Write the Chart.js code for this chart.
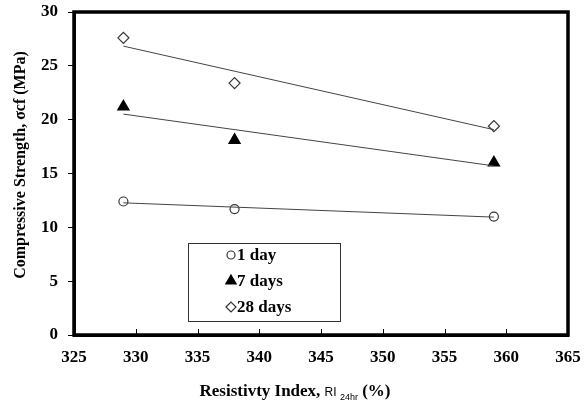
<!DOCTYPE html>
<html>
<head>
<meta charset="utf-8">
<script src="https://cdn.jsdelivr.net/npm/chart.js@4/dist/chart.umd.min.js"></script>
<style>
  html, body { margin: 0; padding: 0; background: #fff; }
  #wrap { width: 587px; height: 411px; }
</style>
</head>
<body>
<div id="wrap"><canvas id="chart" width="587" height="411"></canvas></div>
<script>
// Data
const resistivity = [329, 338, 359];
const day1 = [12.4, 11.7, 11.0];
const day7 = [21.2, 18.1, 16.0];
const day28 = [27.6, 23.4, 19.4];
const seriesLabels = ['1 day', '7 days', '28 days'];
const xTicks = [325, 330, 335, 340, 345, 350, 355, 360, 365];
const yTicks = [0, 5, 10, 15, 20, 25, 30];

const serif = "'Liberation Serif', 'Times New Roman', serif";

// Excel style linear trendline from the measured points
function trend(xs, ys) {
    const n = xs.length;
    const mx = xs.reduce((a, b) => a + b, 0) / n;
    const my = ys.reduce((a, b) => a + b, 0) / n;
    let sxy = 0, sxx = 0;
    xs.forEach((x, i) => { sxy += (x - mx) * (ys[i] - my); sxx += (x - mx) * (x - mx); });
    const k = sxy / sxx;
    const x0 = Math.min(...xs), x1 = Math.max(...xs);
    return [{ x: x0, y: my + k * (x0 - mx) }, { x: x1, y: my + k * (x1 - mx) }];
}

function pts(ys) {
    return resistivity.map((x, i) => ({ x: x, y: ys[i] }));
}

const markers = [
    { pointStyle: 'circle', radius: 4.5, bg: '#fff', border: '#333' },
    { pointStyle: 'triangle', radius: 6.5, bg: '#000', border: '#000' },
    { pointStyle: 'rectRot', radius: 5.5, bg: '#fff', border: '#333' },
];

const allSeries = [day1, day7, day28];

const datasets = [];
allSeries.forEach((ys, i) => {
    datasets.push({
        type: 'line',
        data: trend(resistivity, ys),
        borderColor: '#444',
        borderWidth: 1,
        pointRadius: 0,
        fill: false,
    });
});
allSeries.forEach((ys, i) => {
    datasets.push({
        type: 'scatter',
        label: seriesLabels[i],
        data: pts(ys),
        pointStyle: markers[i].pointStyle,
        pointRadius: markers[i].radius,
        pointBackgroundColor: markers[i].bg,
        pointBorderColor: markers[i].border,
        pointBorderWidth: 1.2,
    });
});

// Frame, inside x ticks, axis titles and the boxed legend
const decorations = {
    id: 'decorations',
    afterDraw(chart) {
        const ctx = chart.ctx;
        const a = chart.chartArea;
        const xs = chart.scales.x;
        ctx.save();

        // inside tick marks on the x axis
        ctx.strokeStyle = '#000';
        ctx.lineWidth = 1;
        xTicks.slice(1, -1).forEach(v => {
            const px = Math.round(xs.getPixelForValue(v)) + 0.5;
            ctx.beginPath();
            ctx.moveTo(px, a.bottom);
            ctx.lineTo(px, a.bottom - 6);
            ctx.stroke();
        });

        // thick frame
        ctx.lineWidth = 3.5;
        ctx.strokeRect(a.left, a.top, a.right - a.left, a.bottom - a.top);

        // y title
        ctx.fillStyle = '#000';
        ctx.save();
        ctx.translate(21, 165);
        ctx.rotate(-Math.PI / 2);
        ctx.font = 'bold 16px ' + serif;
        ctx.textAlign = 'center';
        ctx.textBaseline = 'middle';
        ctx.fillText('Compressive Strength, σcf (MPa)', 0, 0);
        ctx.restore();

        // x title with subscript
        const parts = [
            { t: 'Resistivty Index, ', f: 'bold 17px ' + serif, dy: 0 },
            { t: 'RI ', f: '12px "Liberation Sans", Arial, sans-serif', dy: 0 },
            { t: '24hr', f: '9px "Liberation Sans", Arial, sans-serif', dy: 4 },
            { t: ' (%)', f: 'bold 17px ' + serif, dy: 0 },
        ];
        let total = 0;
        parts.forEach(p => { ctx.font = p.f; p.w = ctx.measureText(p.t).width; total += p.w; });
        let x = 295 - total / 2;
        ctx.textAlign = 'left';
        ctx.textBaseline = 'alphabetic';
        parts.forEach(p => {
            ctx.font = p.f;
            ctx.fillText(p.t, x, 396 + p.dy);
            x += p.w;
        });

        // legend box
        ctx.lineWidth = 1;
        ctx.strokeStyle = '#333';
        ctx.strokeRect(188.5, 243.5, 152, 78);
        ctx.font = 'bold 17px ' + serif;
        ctx.textBaseline = 'middle';
        const rows = [255, 281, 307];
        markers.forEach((m, i) => {
            ctx.fillStyle = m.bg;
            ctx.strokeStyle = m.border;
            ctx.lineWidth = 1.2;
            Chart.helpers.drawPoint(ctx, {
                pointStyle: m.pointStyle,
                radius: m.radius - 0.5,
                borderWidth: 1.2,
                rotation: 0,
            }, 231, rows[i]);
            ctx.fillStyle = '#000';
            ctx.fillText(seriesLabels[i], 237, rows[i] + 1);
        });

        ctx.restore();
    }
};

new Chart(document.getElementById('chart'), {
    data: { datasets: datasets },
    options: {
        responsive: false,
        animation: false,
        layout: { padding: { left: 0, right: 19, top: 12, bottom: 0 } },
        plugins: {
            legend: { display: false },
            tooltip: { enabled: false },
        },
        scales: {
            x: {
                type: 'linear',
                min: xTicks[0],
                max: xTicks[xTicks.length - 1],
                afterBuildTicks(scale) { scale.ticks = xTicks.map(v => ({ value: v })); },
                afterFit(scale) {
                    scale.height = 76;
                    scale.paddingLeft = 0;
                    scale.paddingRight = 0;
                },
                grid: { display: false, drawTicks: false },
                border: { display: true, color: '#000', width: 3 },
                ticks: {
                    color: '#000',
                    padding: 12,
                    font: { family: serif, size: 17, weight: 'bold' },
                    maxRotation: 0,
                },
            },
            y: {
                type: 'linear',
                min: yTicks[0],
                max: yTicks[yTicks.length - 1],
                afterBuildTicks(scale) { scale.ticks = yTicks.map(v => ({ value: v })); },
                afterFit(scale) {
                    scale.width = 74;
                    scale.paddingTop = 0;
                    scale.paddingBottom = 0;
                },
                grid: {
                    display: true,
                    drawOnChartArea: false,
                    drawTicks: true,
                    tickLength: 6,
                    color: '#000',
                    lineWidth: 1,
                },
                border: { display: true, color: '#000', width: 3 },
                ticks: {
                    color: '#000',
                    padding: 10,
                    font: { family: serif, size: 17, weight: 'bold' },
                },
            },
        },
    },
    plugins: [decorations],
});
</script>
</body>
</html>
